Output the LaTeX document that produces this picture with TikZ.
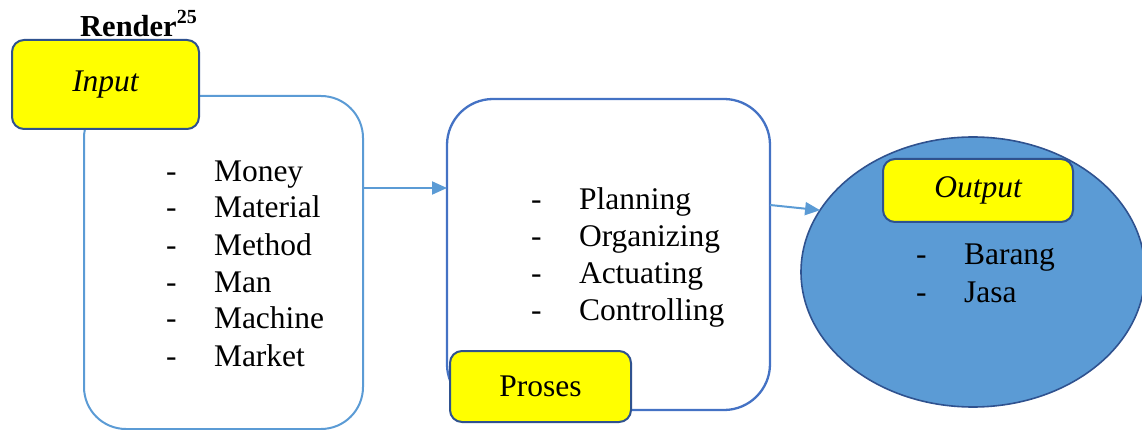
\documentclass[tikz,border=0pt]{standalone}
\usepackage{fontspec}
\setmainfont{Liberation Serif}
\usetikzlibrary{shapes.geometric,arrows.meta}
\definecolor{lblue}{HTML}{5B9BD5}
\definecolor{mblue}{HTML}{4472C4}
\definecolor{dblue}{HTML}{2F528F}
\definecolor{yfill}{HTML}{FFFF00}
\begin{document}
\begin{tikzpicture}[x=1pt,y=-1pt,
  txt/.style={font=\fontsize{31.5}{37}\selectfont, anchor=base west, inner sep=0pt, outer sep=0pt},
  ylabel/.style={draw=dblue, line width=2pt, fill=yfill, rounded corners=12pt, inner sep=0pt, outer sep=0pt, font=\fontsize{31.5}{37}\selectfont},
  bigbox/.style={rounded corners=42pt, inner sep=0pt, outer sep=0pt, line width=2pt},
  conn/.style={draw=lblue, line width=2pt, -{Triangle[length=15pt,width=13pt]}}
]
\useasboundingbox (0,0) rectangle (1142,430);

% Input list box
\node[bigbox, draw=lblue, minimum width=279pt, minimum height=333pt] (inbox) at (223.5,262.5) {};
% Input label
\node[ylabel, minimum width=187pt, minimum height=89pt] (input) at (105.5,84.5) {\itshape Input};
\node[anchor=base west, inner sep=0pt, font=\fontsize{30.5}{36}\selectfont\bfseries] (render) at (80,37) {Render\raisebox{13pt}{\fontsize{20}{20}\selectfont 25}};

% Input items
\foreach \i/\w/\yy in {1/Money/182, 2/Material/218, 3/Method/255, 4/Man/292, 5/Machine/328, 6/Market/366}{
  \node[txt] (d\i) at (166,\yy) {-};
  \node[txt] (m\i) at (214,\yy) {\w};
}

% Proses box
\node[bigbox, draw=mblue, line width=2.3pt, rounded corners=46pt, minimum width=323pt, minimum height=311pt] (pbox) at (608.5,254.5) {};
\foreach \i/\w/\yy in {1/Planning/210, 2/Organizing/247, 3/Actuating/283, 4/Controlling/320}{
  \node[txt] (pd\i) at (531,\yy) {-};
  \node[txt] (p\i) at (579,\yy) {\w};
}
\node[ylabel, minimum width=181pt, minimum height=71pt] (proses) at (540.5,386.5) {Proses};

% Output ellipse
\node[ellipse, draw=dblue, line width=1.6pt, fill=lblue, minimum width=344pt, minimum height=270pt, inner sep=0pt, outer sep=0pt] (out) at (973,272) {};
\node[ylabel, minimum width=190pt, minimum height=63pt] (output) at (978,190.5) {\itshape Output};
\foreach \i/\w/\yy in {1/Barang/264, 2/Jasa/302}{
  \node[txt] (od\i) at (916,\yy) {-};
  \node[txt] (o\i) at (964,\yy) {\w};
}

% connectors
\draw[conn] (inbox.east |- 0,188) -- (pbox.west |- 0,188);
\draw[conn] (pbox.east |- 0,205) -- (out.158);
\end{tikzpicture}
\end{document}
